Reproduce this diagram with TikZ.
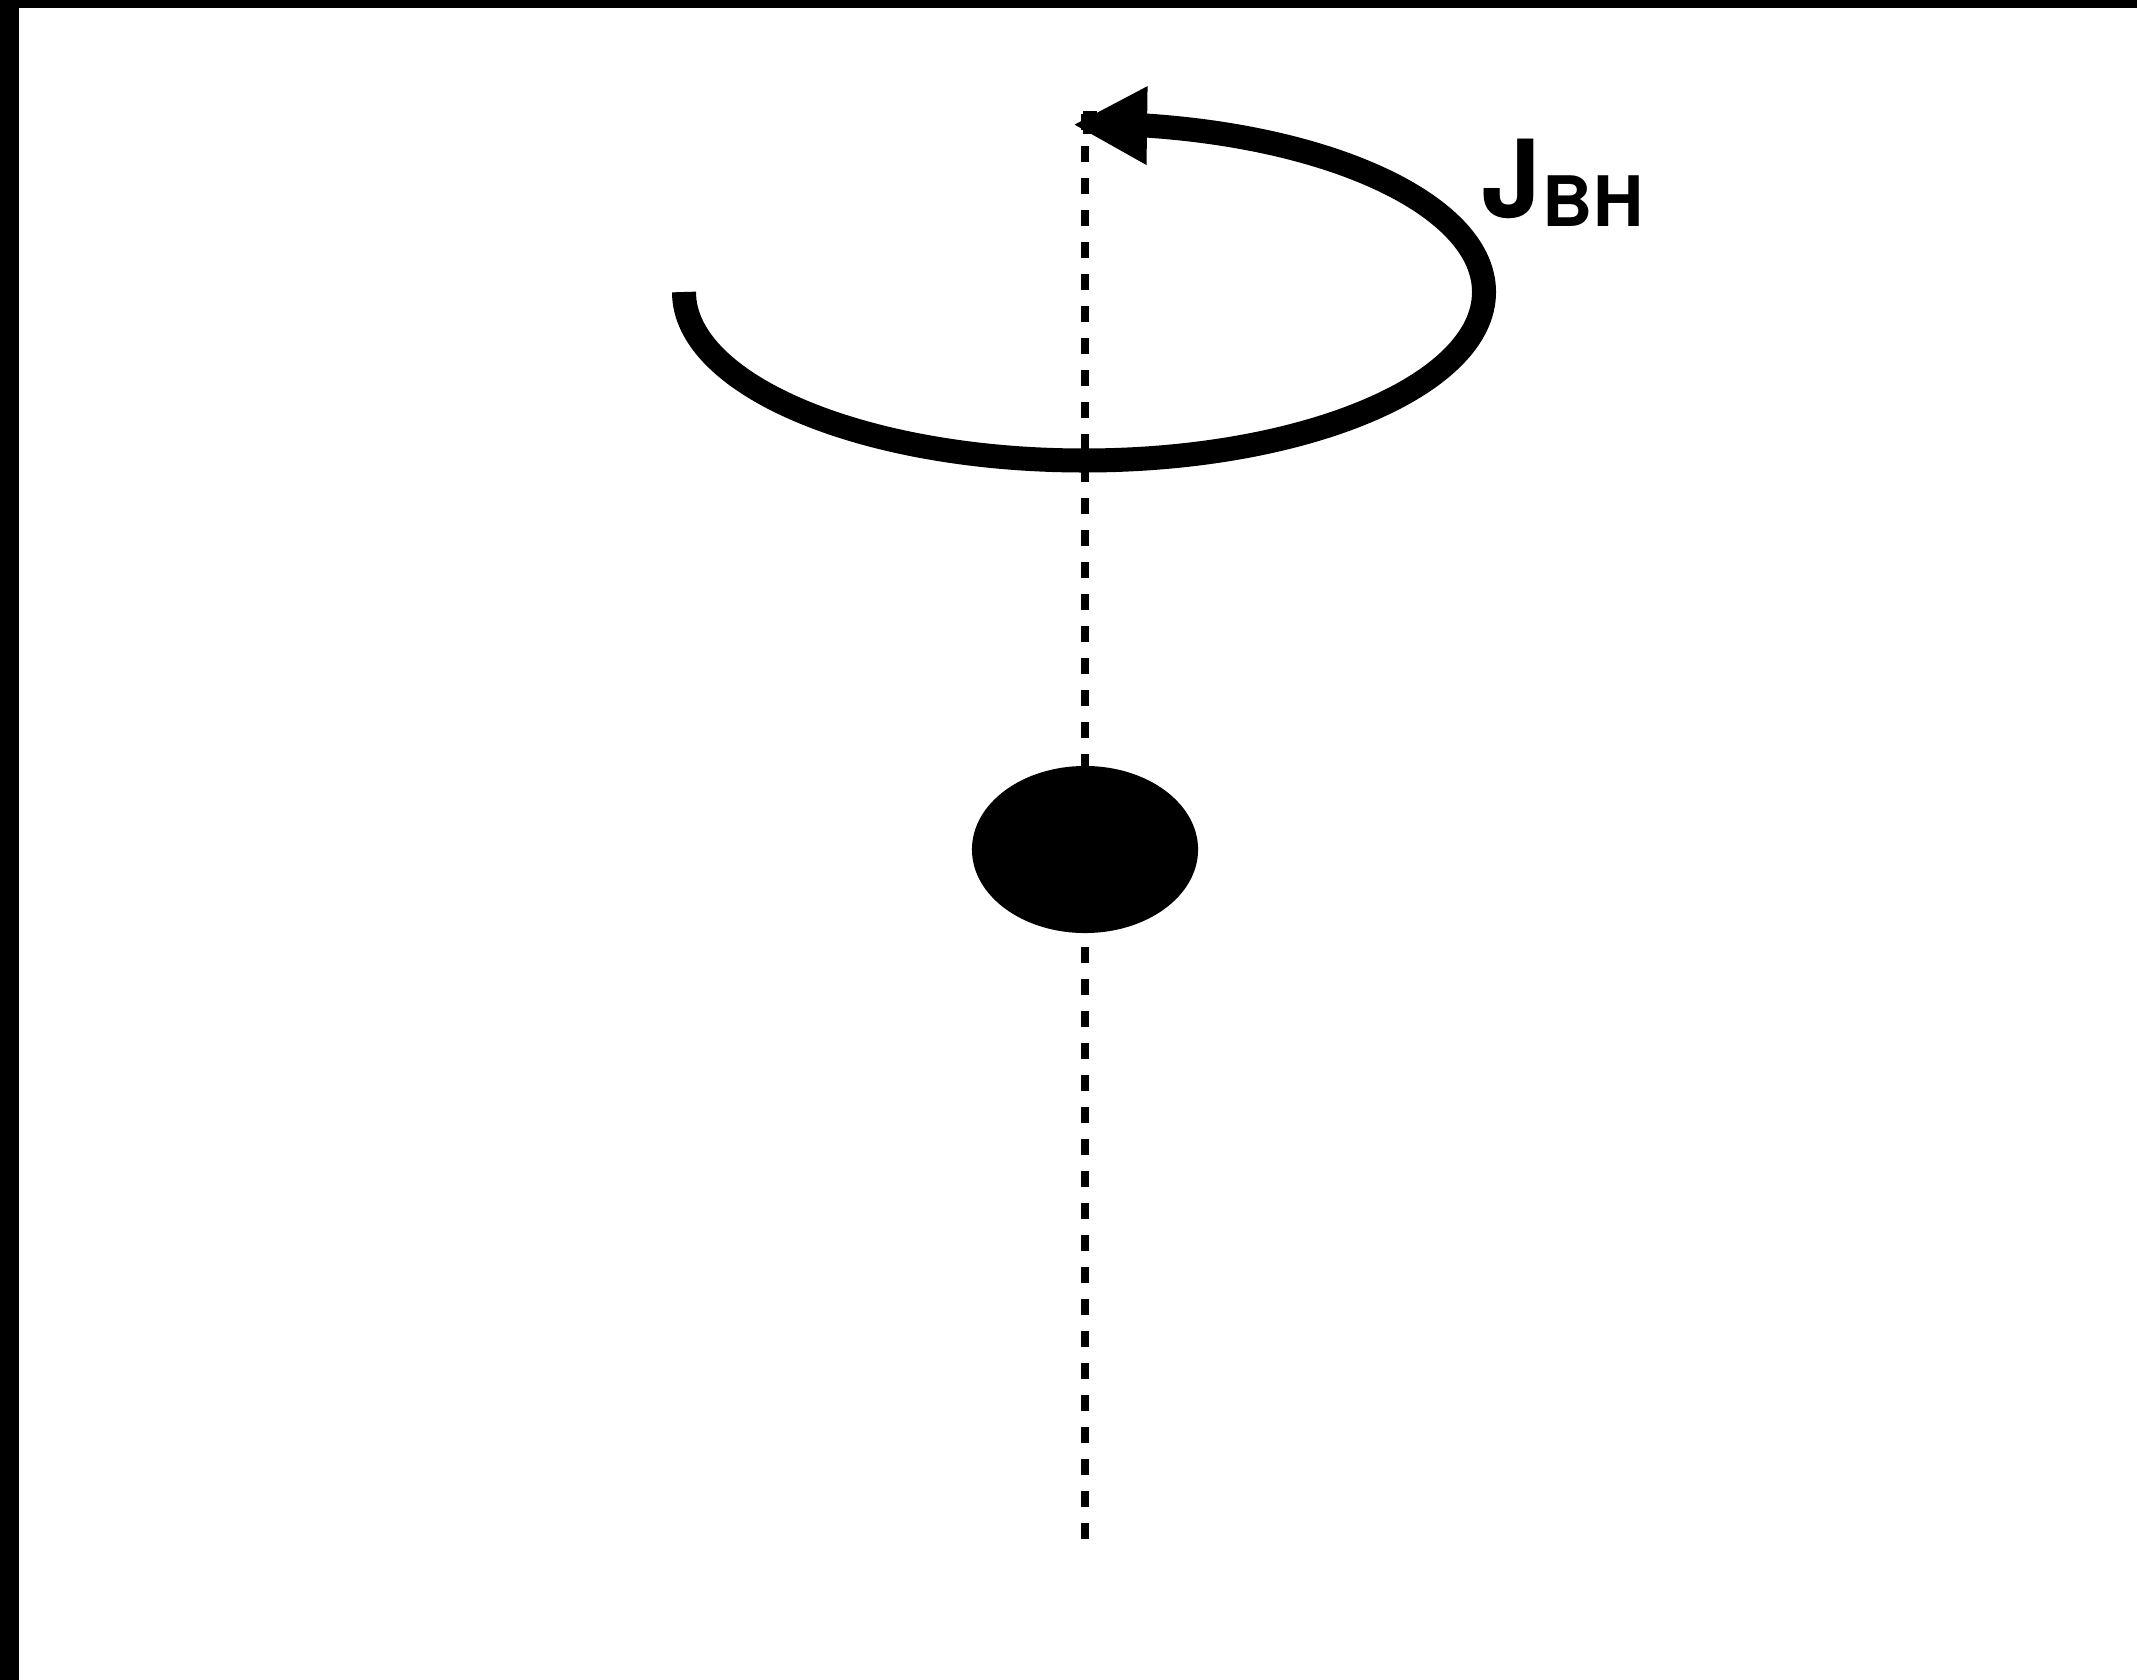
\documentclass[tikz,border=0pt]{standalone}
\usepackage{fontspec}
\setmainfont{TeX Gyre Heros}
\usetikzlibrary{arrows.meta}
\tikzset{
  frame/.style={fill=black, draw=none},
  axisline/.style={line width=0.08cm, dash pattern=on 0.16cm off 0.16cm},
  ring/.style={line width=0.24cm, -{Triangle[length=0.74cm, width=0.73cm]}},
  hole/.style={ellipse, fill=black, draw=none, minimum width=2.26cm, minimum height=1.67cm, inner sep=0pt},
  lbl/.style={inner sep=0pt, anchor=base west, font=\bfseries}
}
\usetikzlibrary{shapes.geometric}
\begin{document}
\begin{tikzpicture}[x=0.01cm, y=0.01cm]
\useasboundingbox (0,0) rectangle (2137,-1679);
\fill[white] (0,0) rectangle (2137,-1679);
% frame edges
\fill[frame] (0,1) rectangle (19,-1680);
\fill[frame] (-1,1) rectangle (2138,-8);
% spin axis
\coordinate (axtop) at (1085,-114);
\coordinate (axbot) at (1085,-1540);
\draw[axisline] (axtop) -- (axbot);
\fill (1083,-111) rectangle (1097,-134);
% black hole
\node[hole] (bh) at (1085,-849.5) {};
% rotation arrow
\coordinate (ringstart) at (684,-292);
\coordinate (tip) at (1073,-124.6);
\draw[ring] (ringstart) arc[start angle=180, end angle=441, x radius=400, y radius=168.5] -- (tip);
% label
\node[lbl, font=\bfseries\fontsize{30.6}{30.6}\selectfont] (j) at (1481,-218) {J};
\node[lbl, font=\bfseries\fontsize{19.8}{19.8}\selectfont] (bh-sub) at (1542,-226) {BH};
\end{tikzpicture}
\end{document}
